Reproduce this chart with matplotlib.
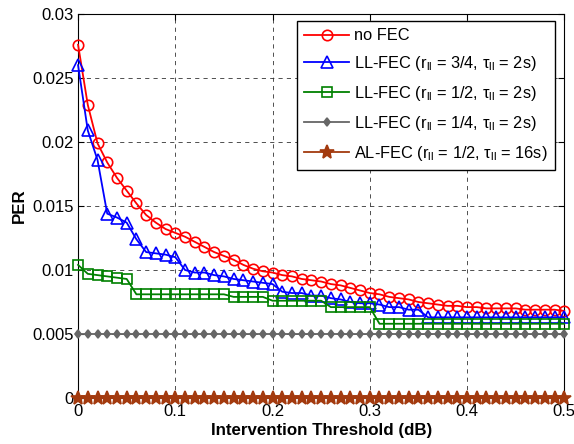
"""
PER vs. intervention threshold for the FEC variants
"""
import numpy as np
import matplotlib
matplotlib.use("Agg")
import matplotlib.pyplot as plt

plt.rcParams['font.family'] = ['Liberation Sans', 'DejaVu Sans']
plt.rcParams['mathtext.fontset'] = 'custom'
plt.rcParams['mathtext.rm'] = 'Liberation Sans'
plt.rcParams['mathtext.it'] = 'Liberation Sans:italic'

# intervention threshold grid (dB), 0 .. 0.5 in 0.01 steps
THRESHOLD = np.linspace(0, 0.5, 51)

PER_NO_FEC = [
    0.0276, 0.0229, 0.0199, 0.0184, 0.0172, 0.0162, 0.0152, 0.0143, 0.0137, 0.0132,
    0.0129, 0.0126, 0.0122, 0.0118, 0.0114, 0.0111, 0.0108, 0.0104, 0.0101, 0.0099,
    0.0098, 0.0096, 0.0095, 0.0093, 0.0092, 0.0091, 0.0089, 0.0088, 0.0086, 0.0084,
    0.0082, 0.0081, 0.0079, 0.0078, 0.0077, 0.0075, 0.0074, 0.0073, 0.0072, 0.0072,
    0.0071, 0.0071, 0.0070, 0.0070, 0.0070, 0.0070, 0.0069, 0.0069, 0.0069, 0.0069,
    0.0068,
]

PER_LL_34 = [
    0.0260, 0.0209, 0.0186, 0.0144, 0.0141, 0.0137, 0.0124, 0.0114, 0.0113, 0.0112,
    0.0110, 0.0100, 0.0098, 0.0098, 0.0096, 0.0095, 0.0093, 0.0092, 0.0091, 0.0090,
    0.0089, 0.0083, 0.0082, 0.0082, 0.0080, 0.0080, 0.0078, 0.0077, 0.0075, 0.0074,
    0.0074, 0.0073, 0.0071, 0.0071, 0.0069, 0.0069, 0.0063, 0.0063, 0.0063, 0.0063,
    0.0063, 0.0063, 0.0063, 0.0063, 0.0063, 0.0063, 0.0063, 0.0063, 0.0063, 0.0063,
    0.0063,
]

PER_LL_12 = [
    0.0104, 0.0097, 0.0096, 0.0095, 0.0094, 0.0093, 0.0081, 0.0081, 0.0081, 0.0081,
    0.0081, 0.0081, 0.0081, 0.0081, 0.0081, 0.0081, 0.0079, 0.0079, 0.0079, 0.0079,
    0.0076, 0.0076, 0.0076, 0.0076, 0.0076, 0.0076, 0.0071, 0.0071, 0.0071, 0.0071,
    0.0071, 0.0058, 0.0058, 0.0058, 0.0058, 0.0058, 0.0058, 0.0058, 0.0058, 0.0058,
    0.0058, 0.0058, 0.0058, 0.0058, 0.0058, 0.0058, 0.0058, 0.0058, 0.0058, 0.0058,
    0.0058,
]

PER_LL_14 = [
    0.005, 0.005, 0.005, 0.005, 0.005, 0.005, 0.005, 0.005, 0.005, 0.005,
    0.005, 0.005, 0.005, 0.005, 0.005, 0.005, 0.005, 0.005, 0.005, 0.005,
    0.005, 0.005, 0.005, 0.005, 0.005, 0.005, 0.005, 0.005, 0.005, 0.005,
    0.005, 0.005, 0.005, 0.005, 0.005, 0.005, 0.005, 0.005, 0.005, 0.005,
    0.005, 0.005, 0.005, 0.005, 0.005, 0.005, 0.005, 0.005, 0.005, 0.005,
    0.005,
]

PER_AL_12 = [
    0.0, 0.0, 0.0, 0.0, 0.0, 0.0, 0.0, 0.0, 0.0, 0.0,
    0.0, 0.0, 0.0, 0.0, 0.0, 0.0, 0.0, 0.0, 0.0, 0.0,
    0.0, 0.0, 0.0, 0.0, 0.0, 0.0, 0.0, 0.0, 0.0, 0.0,
    0.0, 0.0, 0.0, 0.0, 0.0, 0.0, 0.0, 0.0, 0.0, 0.0,
    0.0, 0.0, 0.0, 0.0, 0.0, 0.0, 0.0, 0.0, 0.0, 0.0,
    0.0,
]

LABELS = [
    "no FEC",
    r"LL-FEC (r$_{\mathrm{ll}}$ = 3/4, τ$_{\mathrm{ll}}$ = 2s)",
    r"LL-FEC (r$_{\mathrm{ll}}$ = 1/2, τ$_{\mathrm{ll}}$ = 2s)",
    r"LL-FEC (r$_{\mathrm{ll}}$ = 1/4, τ$_{\mathrm{ll}}$ = 2s)",
    r"AL-FEC (r$_{\mathrm{ll}}$ = 1/2, τ$_{\mathrm{ll}}$ = 16s)",
]

X_TICKS = [0, 0.1, 0.2, 0.3, 0.4, 0.5]
X_TICK_LABELS = ["0", "0.1", "0.2", "0.3", "0.4", "0.5"]
Y_TICKS = [0, 0.005, 0.01, 0.015, 0.02, 0.025, 0.03]
Y_TICK_LABELS = ["0", "0.005", "0.01", "0.015", "0.02", "0.025", "0.03"]


def main():
    fig = plt.figure(figsize=(5.74, 4.44), dpi=100)
    ax = fig.add_axes([0.136, 0.1036, 0.847, 0.8649])

    # 曲线样式: (数据, 颜色, marker, 大小, 是否填充)
    series = [
        (PER_NO_FEC, "#ff0000", "o", 7.5, False),
        (PER_LL_34, "#0000ff", "^", 8, False),
        (PER_LL_12, "#008000", "s", 7, False),
        (PER_LL_14, "#666666", "d", 4.5, True),
        (PER_AL_12, "#a33a0e", "*", 10, True),
    ]

    for (vals, color, marker, ms, filled), label in zip(series, LABELS):
        ax.plot(THRESHOLD, vals, color=color, marker=marker, markersize=ms,
                markerfacecolor=color if filled else "none",
                markeredgecolor=color, markeredgewidth=1.2,
                linewidth=1.3, label=label, clip_on=False, zorder=3)

    ax.set_xlim(0, 0.5)
    ax.set_ylim(0, 0.03)
    ax.set_xticks(X_TICKS)
    ax.set_xticklabels(X_TICK_LABELS)
    ax.set_yticks(Y_TICKS)
    ax.set_yticklabels(Y_TICK_LABELS)
    ax.tick_params(direction="in", top=True, right=True, labelsize=12,
                   length=4, width=0.8)
    ax.tick_params(axis="x", pad=4)
    ax.tick_params(axis="y", pad=3)
    ax.grid(True, color="#333333", linestyle=(0, (5, 5)), linewidth=0.6)

    ax.set_xlabel("Intervention Threshold (dB)", fontsize=12.2,
                  fontweight="bold", labelpad=3)
    ax.set_ylabel("PER", fontsize=12.2, fontweight="bold", labelpad=4)

    leg = ax.legend(loc="upper right", bbox_to_anchor=(0.982, 0.982),
                    borderaxespad=0, fontsize=11.8, handlelength=2.7,
                    labelspacing=0.66, fancybox=False, framealpha=1,
                    edgecolor="black", borderpad=0.45, handletextpad=0.35)
    leg.get_frame().set_linewidth(1.0)

    fig.savefig("out.png", dpi=100)
    plt.close(fig)


if __name__ == "__main__":
    main()
